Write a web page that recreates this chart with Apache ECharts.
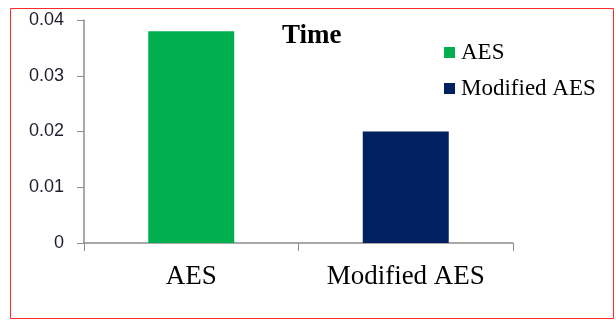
<!DOCTYPE html>
<html>
<head>
<meta charset="utf-8">
<script src="https://cdn.jsdelivr.net/npm/echarts@6/dist/echarts.min.js"></script>
<style>
  html, body { margin: 0; padding: 0; background: #fff; }
  #chart { width: 616px; height: 320px; }
</style>
</head>
<body>
<div id="chart"></div>
<script>
// Encryption time comparison
const categories = ['AES', 'Modified AES'];
const seriesNames = ['AES', 'Modified AES'];
const aesValues = [0.038, '-'];
const modifiedValues = ['-', 0.02];
const yTicks = { min: 0, max: 0.04, interval: 0.01 };

const serif = '"Liberation Serif", "DejaVu Serif", serif';
const sans = '"Liberation Sans", Arial, sans-serif';
const axisGrey = '#8c8c8c';

const chart = echarts.init(document.getElementById('chart'), null, { renderer: 'canvas' });
chart.setOption({
  animation: false,
  backgroundColor: '#ffffff',
  title: {
    text: 'Time',
    left: 277,
    top: 18,
    textStyle: { fontFamily: serif, fontSize: 27, fontWeight: 'bold', color: '#000' }
  },
  legend: {
    data: seriesNames,
    orient: 'vertical',
    left: 439,
    top: 36,
    itemWidth: 11,
    itemHeight: 11,
    itemGap: 13,
    icon: 'rect',
    textStyle: { fontFamily: serif, fontSize: 23, color: '#000', padding: [0, 0, 0, 1] }
  },
  grid: { left: 84, right: 103, top: 20, bottom: 77 },
  xAxis: {
    type: 'category',
    data: categories,
    axisLine: { lineStyle: { color: axisGrey, width: 1.5 } },
    axisTick: { show: true, length: 8, lineStyle: { color: axisGrey } },
    axisLabel: { fontFamily: serif, fontSize: 27, color: '#000', margin: 20 }
  },
  yAxis: {
    type: 'value',
    min: yTicks.min,
    max: yTicks.max,
    interval: yTicks.interval,
    axisLine: { show: true, lineStyle: { color: axisGrey, width: 1.5 } },
    axisTick: { show: true, length: 7, lineStyle: { color: axisGrey } },
    splitLine: { show: false },
    axisLabel: {
      fontFamily: sans, fontSize: 18, color: '#1e1e2e', margin: 20,
      formatter: v => (v === 0 ? '0' : v.toFixed(2))
    }
  },
  series: [
    {
      name: seriesNames[0],
      type: 'bar',
      data: aesValues,
      barWidth: 86,
      barGap: '-100%',
      itemStyle: { color: '#00b050' }
    },
    {
      name: seriesNames[1],
      type: 'bar',
      data: modifiedValues,
      barWidth: 86,
      barGap: '-100%',
      itemStyle: { color: '#002060' }
    }
  ],
  graphic: [
    {
      type: 'rect',
      shape: { x: 10.5, y: 8.5, width: 603, height: 310 },
      style: { fill: 'none', stroke: '#ff2a2a', lineWidth: 1 },
      silent: true
    }
  ]
});
</script>
</body>
</html>
